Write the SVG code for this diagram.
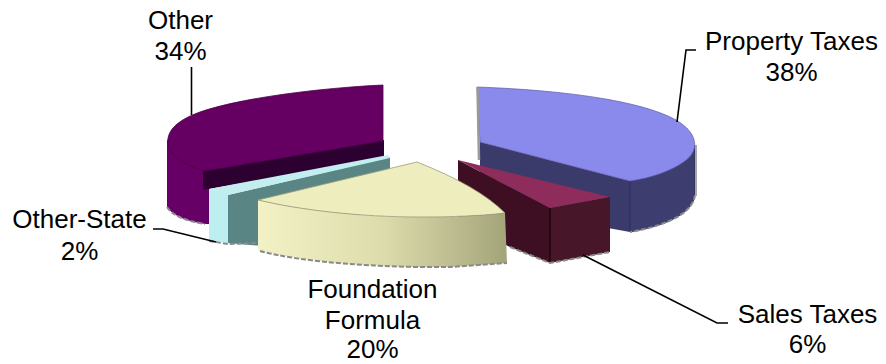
<svg xmlns="http://www.w3.org/2000/svg" width="886" height="364" viewBox="0 0 886 364">
<defs>
<linearGradient id="gYel" x1="258" y1="0" x2="507" y2="0" gradientUnits="userSpaceOnUse">
<stop offset="0" stop-color="#f2f2c6"/>
<stop offset="0.5" stop-color="#dcdcac"/>
<stop offset="1" stop-color="#a4a47a"/>
</linearGradient>
<style>
.lbl{font-family:"Liberation Sans",Arial,sans-serif;font-size:26px;fill:#000;text-anchor:middle}
.lead{fill:none;stroke:#000;stroke-width:1.6}
.edge{fill:none;stroke:#8a8a8a;stroke-width:2;stroke-dasharray:5 2}
</style>
</defs>
<rect width="886" height="364" fill="#fff"/>

<g id="slice-other">
<path d="M167,140 L167,207 C172,215 185,221 205,224 L210,224 L210,168 Z" fill="#660066"/>
<path d="M167,207 C172,215 185,221 205,224" class="edge"/>
<polygon points="203,170 384,140 384,158 203,190" fill="#2c0030"/>
<path d="M383,85 C320,88 240,98 200,112 C175,121 166,132 168,145 C170,157 188,167 205,171 L383,141 Z" fill="#650062" stroke="#4a0048" stroke-width="0.8"/>
</g>

<g id="slice-property">
<polygon points="480,142 630,181 630,232 480,205" fill="#3b3b6b"/>
<path d="M630,181 C660,176 690,162 695,145 L695,195 C693,212 670,225 630,232 Z" fill="#3d3d70" stroke="#2c2c55" stroke-width="0.8"/>
<path d="M695,195 C693,212 670,225 630,232" class="edge"/>
<line x1="696" y1="145" x2="696" y2="196" stroke="#a8a8a8" stroke-width="2"/>
<path d="M477,87 C560,90 640,100 676,120 C698,133 700,150 685,161 C670,172 650,178 630,181 L480,142 Z" fill="#8a8aec" stroke="#5a5aa8" stroke-width="0.7"/>
<line x1="477.5" y1="87" x2="479" y2="160" stroke="#9a9a9a" stroke-width="2.5"/>
</g>

<g id="slice-other-state">
<polygon points="228,195 390,157 390,205 262,246 228,243" fill="#5a8585"/>
<polygon points="209,189 388,155 390,158 228,195" fill="#c2eef0"/>
<polygon points="209,189 228,194 228,243 209,240" fill="#bdeef0"/>
<path d="M209,241 L228,244 L258,243" class="edge"/>
</g>

<g id="slice-sales">
<polygon points="458,160 550,208 550,263 510,247 458,222" fill="#3e0f22"/>
<polygon points="550,208 610,197 610,252 550,263" fill="#471628"/>
<line x1="550" y1="208" x2="550" y2="263" stroke="#1a0008" stroke-width="1.2"/>
<polygon points="458,160 610,197 550,208" fill="#8e2c5c"/>
<path d="M510,247 L550,263 L610,252" class="edge"/>
</g>

<g id="slice-foundation">
<path d="M258,200 C300,210 360,217 420,217 C460,217 490,215 505,213 L507,263 L450,267 C380,268 300,262 258,250 Z" fill="url(#gYel)"/>
<path d="M260,251 C300,262 380,268 450,267 L507,263" class="edge"/>
<path d="M417,162 L258,200 C300,210 360,217 420,217 C460,217 490,215 505,213 Q478,186 417,162 Z" fill="#ededbd" stroke="#9c9c7a" stroke-width="0.8"/>
</g>

<g id="connectors">
<line class="lead" x1="191.5" y1="67" x2="191.5" y2="115" stroke-width="2.2"/>
<polyline class="lead" points="696,50 686,50 677,122"/>
<polyline class="lead" points="153,229 163,229 216,242"/>
<polyline class="lead" points="583,255 717,323 728,323"/>
</g>

<g id="labels">
<text class="lbl" x="180.5" y="29">Other</text>
<text class="lbl" x="180.5" y="60">34%</text>
<text class="lbl" x="791.5" y="50">Property Taxes</text>
<text class="lbl" x="791.5" y="81">38%</text>
<text class="lbl" x="79.5" y="228">Other-State</text>
<text class="lbl" x="79.5" y="260">2%</text>
<text class="lbl" x="372.5" y="298">Foundation</text>
<text class="lbl" x="372.5" y="328.5">Formula</text>
<text class="lbl" x="372.5" y="358">20%</text>
<text class="lbl" x="807.5" y="323">Sales Taxes</text>
<text class="lbl" x="807.5" y="353">6%</text>
</g>
</svg>
